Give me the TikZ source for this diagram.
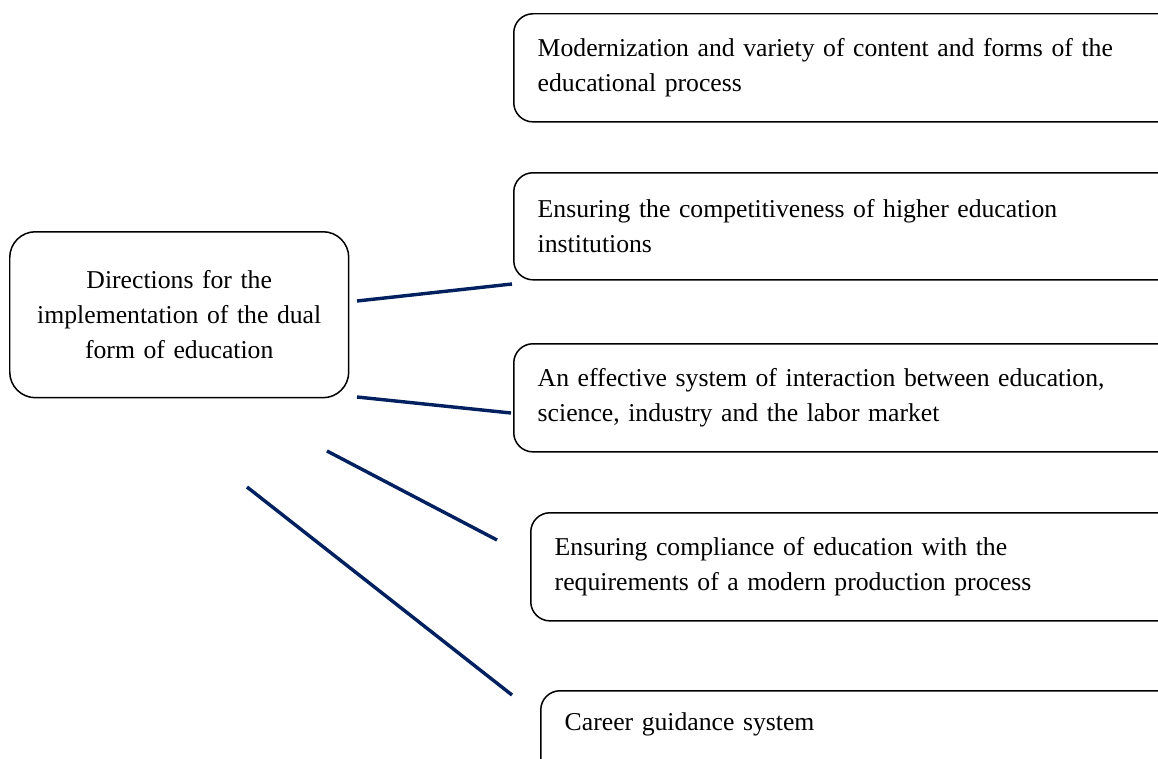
\documentclass[tikz,border=0pt]{standalone}
\usepackage{fontspec}
\setmainfont{Liberation Serif}
\definecolor{linkblue}{RGB}{0,32,96}
\tikzset{
  dirbox/.style={draw, rounded corners=12pt, line width=0.7pt, anchor=north west,
    align=center, text width=148pt, minimum width=158.3pt, minimum height=77.5pt,
    font=\fontsize{12}{16.4}\selectfont},
  itembox/.style={draw, rounded corners=9pt, line width=0.7pt, anchor=north west,
    align=left, inner xsep=11.2pt, text width=292pt, minimum height=50.5pt,
    font=\fontsize{12}{16.4}\selectfont},
  link/.style={draw=linkblue, line width=1.6pt}
}
\begin{document}
\begin{tikzpicture}[x=0.467pt,y=-0.467pt]
	\useasboundingbox (0,0) rectangle (1158,758);
	\clip (0,0) rectangle (1158,758);

	\node[dirbox] (dir) at (9,231) {Directions for the\\implementation of the dual\\form of education};

	\node[itembox] (content) at (513,13) {Modernization and variety of content and forms of the\\educational process};
	\node[itembox, minimum height=50pt] (compet) at (513,172) {Ensuring the competitiveness of higher education\\institutions};
	\node[itembox] (interact) at (513,343) {An effective system of interaction between education,\\science, industry and the labor market};
	\node[itembox] (comply) at (530,512) {Ensuring compliance of education with the\\requirements of a modern production process};
	\node[itembox, inner ysep=10pt, text depth=30pt] (career) at (540,690) {Career guidance system};

	\coordinate (s1) at (357,301);
	\coordinate (e1) at (512,284);
	\coordinate (s2) at (357,397);
	\coordinate (e2) at (511,413);
	\coordinate (s3) at (327,451);
	\coordinate (e3) at (497,540);
	\coordinate (s4) at (247,487);
	\coordinate (e4) at (512,695);

	\draw[link] (s1) -- (e1);
	\draw[link] (s2) -- (e2);
	\draw[link] (s3) -- (e3);
	\draw[link] (s4) -- (e4);

\end{tikzpicture}
\end{document}
